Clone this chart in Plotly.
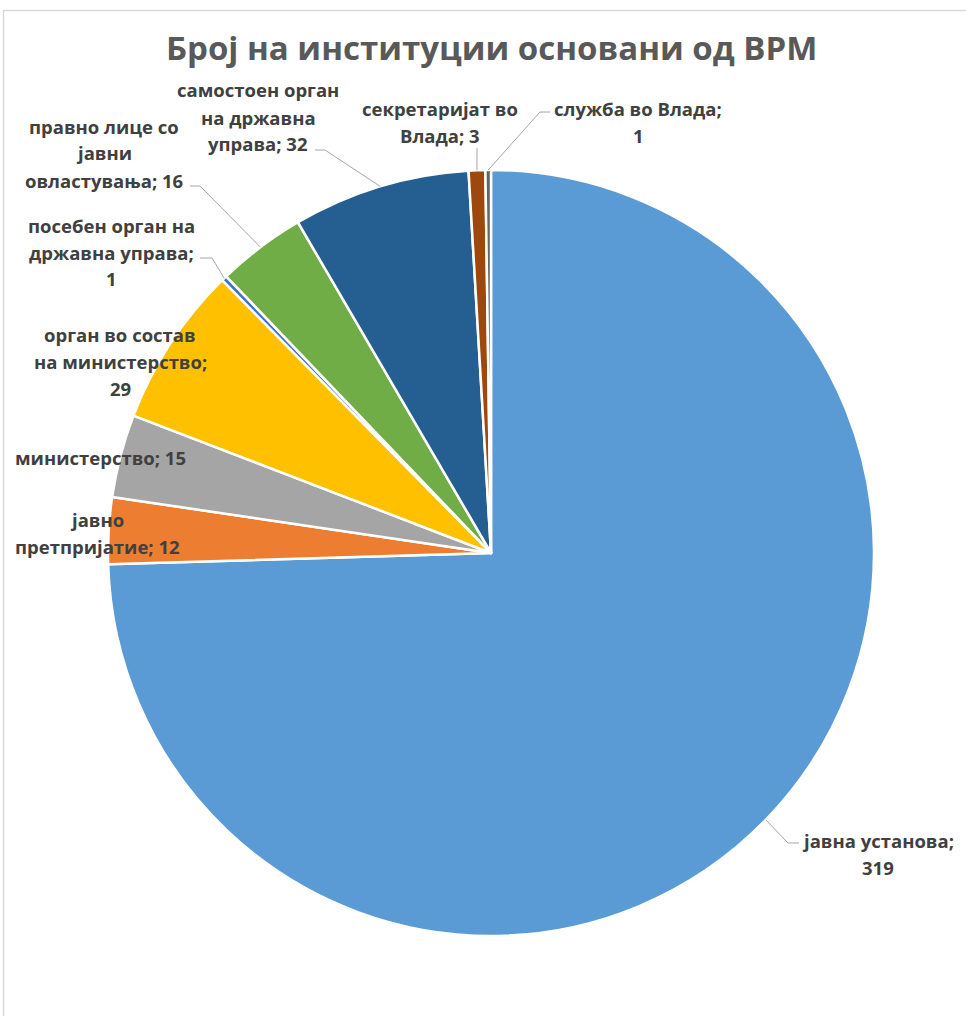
import math
import plotly.graph_objects as go

# ---- data ----
categories = ["јавна установа", "јавно претпријатие", "министерство",
              "орган во состав на министерство", "посебен орган на државна управа",
              "правно лице со јавни овластувања", "самостоен орган на државна управа",
              "секретаријат во Влада", "служба во Влада"]
values = [319, 12, 15, 29, 1, 16, 32, 3, 1]
colors = ["#5B9BD5", "#ED7D31", "#A5A5A5", "#FFC000", "#4472C4",
          "#70AD47", "#255E91", "#9E480E", "#636363"]
title_text = "Број на институции основани од ВРМ"

# wrapped label lines (text only)
label_lines = [
    ["јавна установа;", "319"],
    ["јавно", "претпријатие; 12"],
    ["министерство; 15"],
    ["орган во состав", "на министерство;", "29"],
    ["посебен орган на", "државна управа;", "1"],
    ["правно лице со", "јавни", "овластувања; 16"],
    ["самостоен орган", "на државна", "управа; 32"],
    ["секретаријат во", "Влада; 3"],
    ["служба во Влада;", "1"],
]

# ---- layout constants (pixels) ----
W, H = 966, 1016
CX, CY, R = 491, 553, 383
LINE_H = 27
FONT = "Open Sans"
LABEL_SIZE = 18.5
# label block: center x, first-line y
label_pos = [(878, 840), (97, 519), (100, 457), (120, 334), (111, 225),
             (104, 126), (258, 90), (440, 108), (638, 108)]
# leader elbow points (None = no leader), and the end near the text
leader_pts = [[(788, 843), (799, 843)], None, None, None,
              [(212, 258), (200, 258)],
              [(200, 186), (190, 186)],
              [(325, 150), (315, 150)],
              [(477, 148)],
              [(540, 112), (550, 112)]]


def px(x):
    return x / W


def py(y):
    return 1 - y / H


fig = go.Figure()
fig.add_trace(go.Pie(
    labels=categories, values=values, sort=False, direction="clockwise",
    rotation=0, textinfo="none", hoverinfo="label+value",
    marker=dict(colors=colors, line=dict(color="white", width=2.5)),
    domain=dict(x=[px(CX - R), px(CX + R)], y=[py(CY + R), py(CY - R)]),
    showlegend=False,
))

total = sum(values)
shapes = []
annotations = []
cum = 0
for i, v in enumerate(values):
    mid = (cum + v / 2) / total * 2 * math.pi
    cum += v
    ax_ = CX + R * math.sin(mid)
    ay_ = CY - R * math.cos(mid)
    if leader_pts[i]:
        pts = [(ax_, ay_)] + leader_pts[i]
        path = "M " + " L ".join(f"{px(x):.5f},{py(y):.5f}" for x, y in pts)
        shapes.append(dict(type="path", path=path, xref="paper", yref="paper",
                           line=dict(color="#A6A6A6", width=1)))
    lx, ly = label_pos[i]
    for j, line in enumerate(label_lines[i]):
        annotations.append(dict(
            x=px(lx), y=py(ly + j * LINE_H), xref="paper", yref="paper",
            text=line, showarrow=False, xanchor="center", yanchor="middle",
            font=dict(family=FONT, size=LABEL_SIZE, color="#404040", weight="bold")))

annotations.append(dict(
    x=px(491), y=py(47), xref="paper", yref="paper", text=title_text,
    showarrow=False, xanchor="center", yanchor="middle",
    font=dict(family=FONT, size=33, color="#595959", weight="bold")))

shapes.append(dict(type="rect", xref="paper", yref="paper",
                   x0=px(3.5), x1=px(W + 5), y0=py(H + 5), y1=py(10.5),
                   line=dict(color="#D9D9D9", width=1.5)))

fig.update_layout(
    width=W, height=H, margin=dict(l=0, r=0, t=0, b=0),
    paper_bgcolor="white", plot_bgcolor="white",
    shapes=shapes, annotations=annotations,
)

fig.write_html("out.html", config={"displayModeBar": False},
               post_script="document.body.style.margin='0px';document.body.style.overflow='hidden';")
